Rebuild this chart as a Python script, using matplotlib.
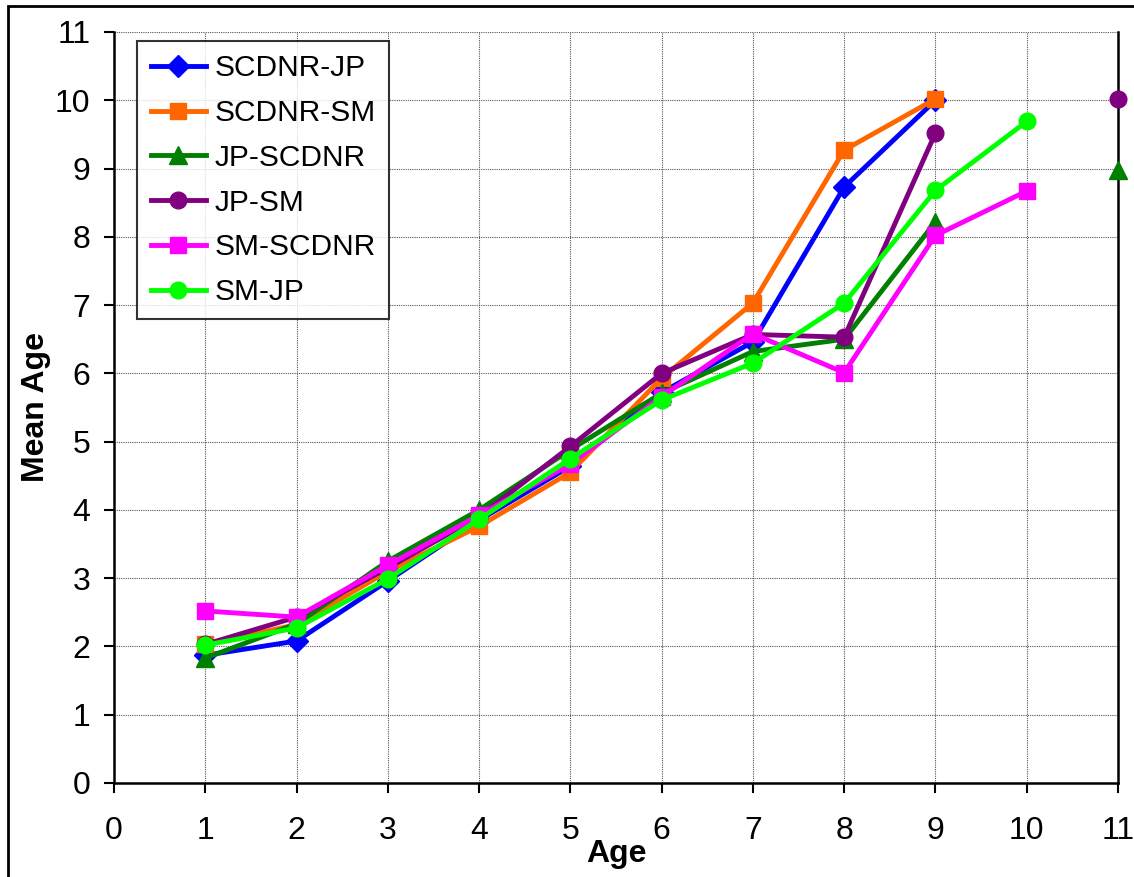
import numpy as np
import matplotlib
matplotlib.use("Agg")
import matplotlib.pyplot as plt
from matplotlib.patches import Rectangle

plt.rcParams['font.family'] = ['Liberation Sans', 'DejaVu Sans']

nan = np.nan
ages = [1, 2, 3, 4, 5, 6, 7, 8, 9, 10, 11]

scdnr_jp = [1.87, 2.08, 2.96, 3.85, 4.64, 5.72, 6.46, 8.73, 10.0, nan, nan]
scdnr_sm = [2.03, 2.32, 3.10, 3.76, 4.55, 5.93, 7.03, 9.27, 10.02, nan, nan]
jp_scdnr = [1.83, 2.33, 3.25, 4.00, 4.88, 5.71, 6.32, 6.50, 8.22, nan, 8.98]
jp_sm = [2.03, 2.43, 3.15, 3.90, 4.93, 6.00, 6.57, 6.53, 9.52, nan, 10.02]
sm_scdnr = [2.52, 2.43, 3.19, 3.92, 4.67, 5.66, 6.58, 6.01, 8.02, 8.67, nan]
sm_jp = [2.02, 2.27, 2.99, 3.86, 4.75, 5.61, 6.15, 7.03, 8.68, 9.69, nan]

series = [
    ("SCDNR-JP", scdnr_jp, "#0000FF", "D", 11),
    ("SCDNR-SM", scdnr_sm, "#FF6600", "s", 11.5),
    ("JP-SCDNR", jp_scdnr, "#008000", "^", 13),
    ("JP-SM", jp_sm, "#800080", "o", 12),
    ("SM-SCDNR", sm_scdnr, "#FF00FF", "s", 11.5),
    ("SM-JP", sm_jp, "#00FF00", "o", 12),
]

fig = plt.figure(figsize=(11.34, 8.77), dpi=100)
ax = fig.add_axes([114 / 1134, 1 - 783 / 877, 1004 / 1134, 751 / 877])

for name, vals, col, mk, ms in series:
    ax.plot(ages, vals, color=col, marker=mk, markersize=ms, lw=3.5,
            label=name, clip_on=False, zorder=3)

ax.set_xlim(0, 11)
ax.set_ylim(0, 11)
ax.set_xticks(range(0, 12))
ax.set_yticks(range(0, 12))
ax.tick_params(labelsize=23, length=7, width=1.5, direction="out")
ax.tick_params(axis="x", pad=17)
ax.tick_params(axis="y", pad=10)
ax.grid(True, color="#555555", linestyle=(0, (1, 1)), linewidth=0.8)
ax.set_axisbelow(True)
for s in ["left", "bottom", "right"]:
    ax.spines[s].set_linewidth(1.8)
ax.spines["top"].set_visible(False)

ax.set_xlabel("Age", fontsize=23, fontweight="bold", labelpad=-5)
ax.set_ylabel("Mean Age", fontsize=23, fontweight="bold", labelpad=3)

leg = ax.legend(loc="upper left", bbox_to_anchor=(0.023, 0.988), fontsize=21.5,
                frameon=True, fancybox=False, edgecolor="black",
                handlelength=1.85, handletextpad=0.3, labelspacing=0.56,
                borderpad=0.45, borderaxespad=0)
leg.get_frame().set_linewidth(1.5)

fig.patches.append(Rectangle((7.5 / 1134, -0.05), 1.2, 1.05 - 6 / 877,
                             transform=fig.transFigure, fill=False,
                             edgecolor="black", linewidth=2))

fig.savefig("out.png", dpi=100)
